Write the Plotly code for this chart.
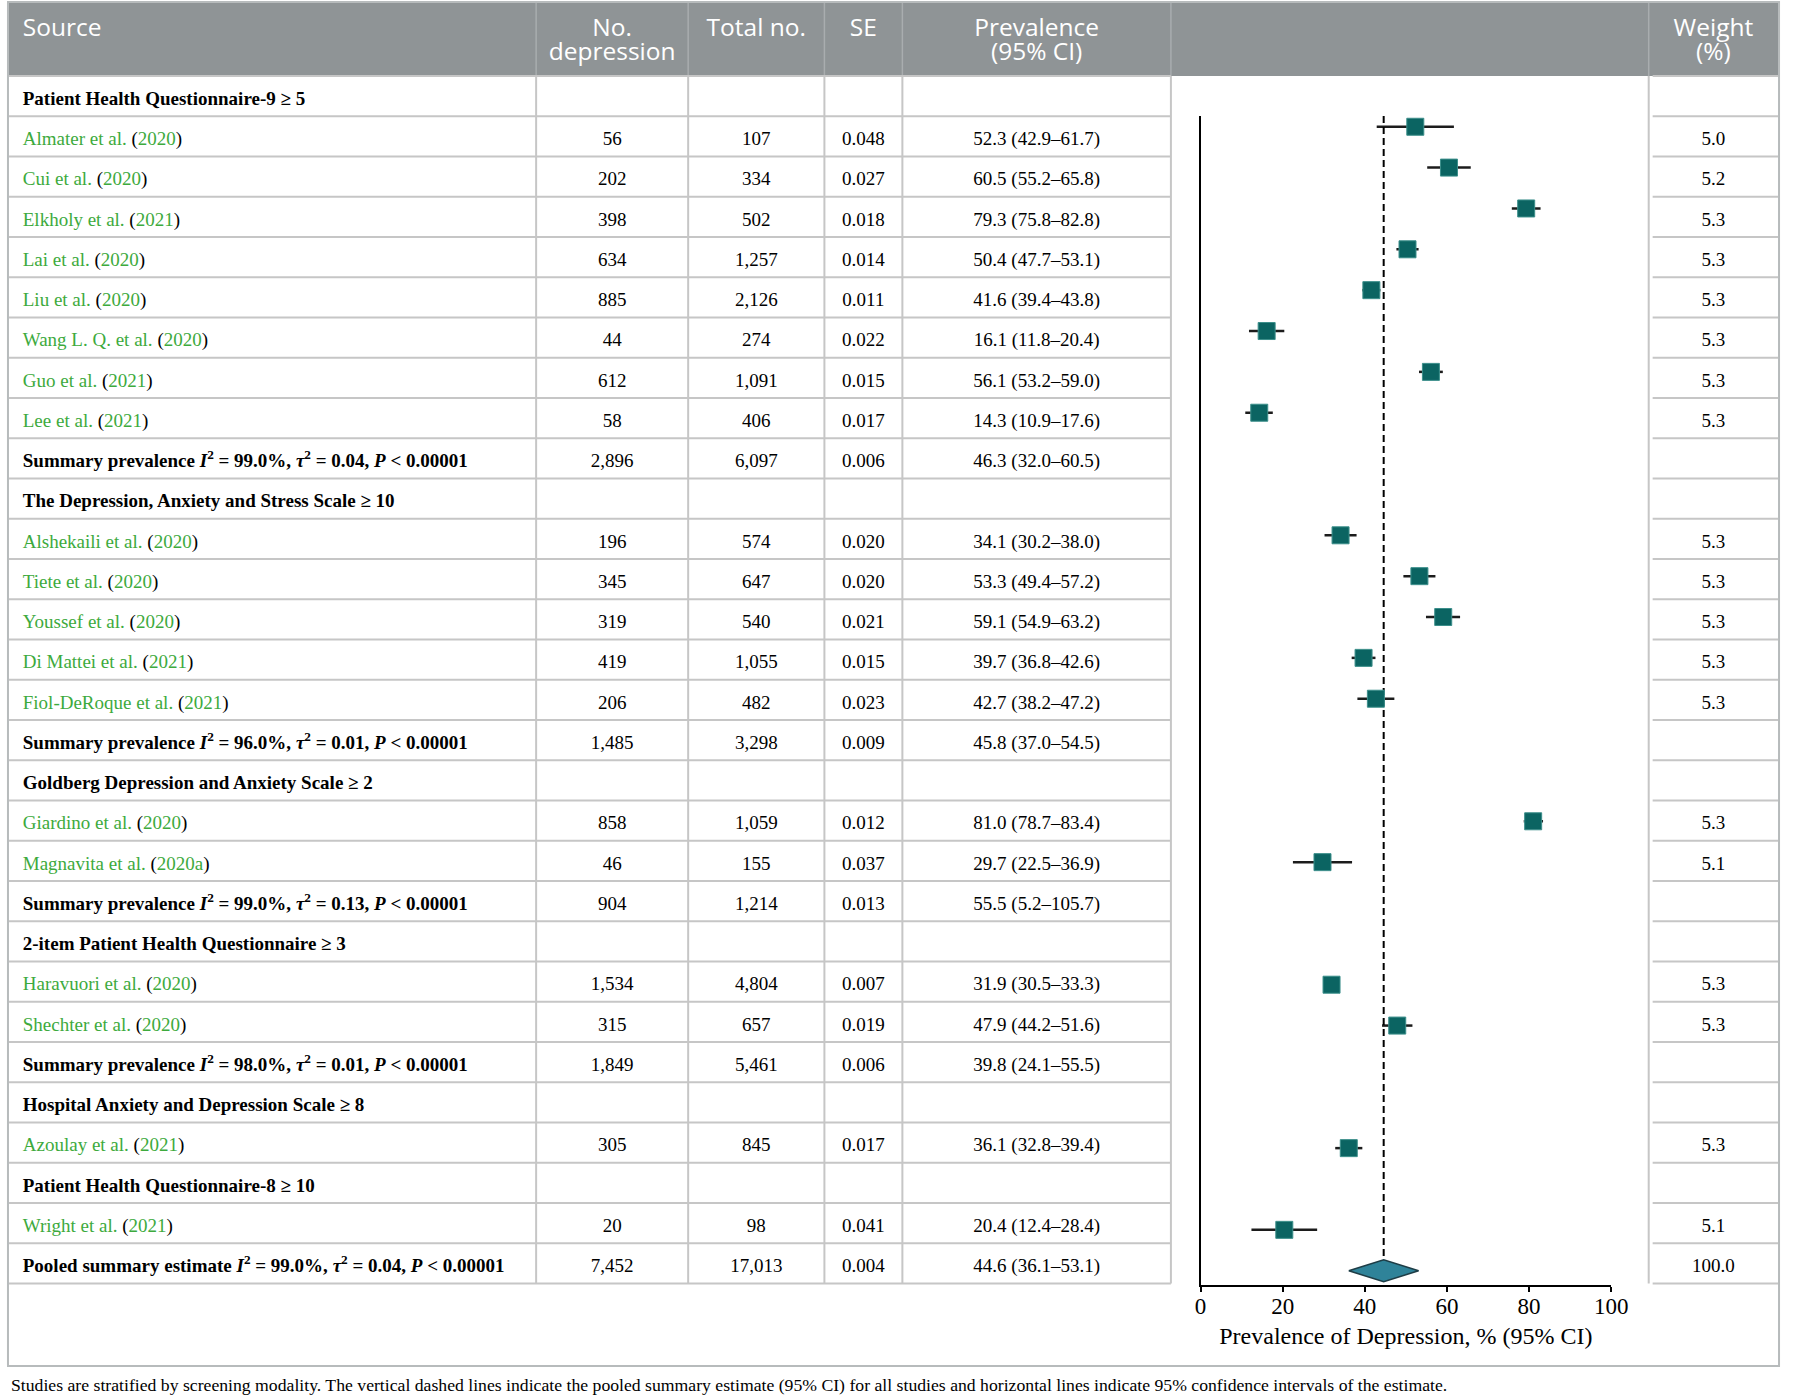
import plotly.graph_objects as go

W, H = 1798, 1398

# one entry per table row, top to bottom
ROW_KIND = (["group"] + ["study"] * 8 + ["summary"]
            + ["group"] + ["study"] * 5 + ["summary"]
            + ["group"] + ["study"] * 2 + ["summary"]
            + ["group"] + ["study"] * 2 + ["summary"]
            + ["group", "study"]
            + ["group", "study"]
            + ["pooled"])

LABEL = [
    "Patient Health Questionnaire-9 ≥ 5",
    "Almater et al.", "Cui et al.", "Elkholy et al.", "Lai et al.", "Liu et al.",
    "Wang L. Q. et al.", "Guo et al.", "Lee et al.",
    "Summary prevalence",
    "The Depression, Anxiety and Stress Scale ≥ 10",
    "Alshekaili et al.", "Tiete et al.", "Youssef et al.", "Di Mattei et al.",
    "Fiol-DeRoque et al.",
    "Summary prevalence",
    "Goldberg Depression and Anxiety Scale ≥ 2",
    "Giardino et al.", "Magnavita et al.",
    "Summary prevalence",
    "2-item Patient Health Questionnaire ≥ 3",
    "Haravuori et al.", "Shechter et al.",
    "Summary prevalence",
    "Hospital Anxiety and Depression Scale ≥ 8",
    "Azoulay et al.",
    "Patient Health Questionnaire-8 ≥ 10",
    "Wright et al.",
    "Pooled summary estimate",
]

YEAR = [None, "2020", "2020", "2021", "2020", "2020", "2020", "2021", "2021", None,
        None, "2020", "2020", "2020", "2021", "2021", None,
        None, "2020", "2020a", None,
        None, "2020", "2020", None,
        None, "2021",
        None, "2021",
        None]

I2 = [None, None, None, None, None, None, None, None, None, 99.0,
      None, None, None, None, None, None, 96.0,
      None, None, None, 99.0,
      None, None, None, 98.0,
      None, None,
      None, None,
      99.0]
TAU2 = [None, None, None, None, None, None, None, None, None, 0.04,
        None, None, None, None, None, None, 0.01,
        None, None, None, 0.13,
        None, None, None, 0.01,
        None, None,
        None, None,
        0.04]

N_DEP = [None, 56, 202, 398, 634, 885, 44, 612, 58, 2896,
         None, 196, 345, 319, 419, 206, 1485,
         None, 858, 46, 904,
         None, 1534, 315, 1849,
         None, 305,
         None, 20,
         7452]
N_TOT = [None, 107, 334, 502, 1257, 2126, 274, 1091, 406, 6097,
         None, 574, 647, 540, 1055, 482, 3298,
         None, 1059, 155, 1214,
         None, 4804, 657, 5461,
         None, 845,
         None, 98,
         17013]
SE = [None, 0.048, 0.027, 0.018, 0.014, 0.011, 0.022, 0.015, 0.017, 0.006,
      None, 0.020, 0.020, 0.021, 0.015, 0.023, 0.009,
      None, 0.012, 0.037, 0.013,
      None, 0.007, 0.019, 0.006,
      None, 0.017,
      None, 0.041,
      0.004]
PREV = [None, 52.3, 60.5, 79.3, 50.4, 41.6, 16.1, 56.1, 14.3, 46.3,
        None, 34.1, 53.3, 59.1, 39.7, 42.7, 45.8,
        None, 81.0, 29.7, 55.5,
        None, 31.9, 47.9, 39.8,
        None, 36.1,
        None, 20.4,
        44.6]
LO = [None, 42.9, 55.2, 75.8, 47.7, 39.4, 11.8, 53.2, 10.9, 32.0,
      None, 30.2, 49.4, 54.9, 36.8, 38.2, 37.0,
      None, 78.7, 22.5, 5.2,
      None, 30.5, 44.2, 24.1,
      None, 32.8,
      None, 12.4,
      36.1]
HI = [None, 61.7, 65.8, 82.8, 53.1, 43.8, 20.4, 59.0, 17.6, 60.5,
      None, 38.0, 57.2, 63.2, 42.6, 47.2, 54.5,
      None, 83.4, 36.9, 105.7,
      None, 33.3, 51.6, 55.5,
      None, 39.4,
      None, 28.4,
      53.1]
WEIGHT = [None, 5.0, 5.2, 5.3, 5.3, 5.3, 5.3, 5.3, 5.3, None,
          None, 5.3, 5.3, 5.3, 5.3, 5.3, None,
          None, 5.3, 5.1, None,
          None, 5.3, 5.3, None,
          None, 5.3,
          None, 5.1,
          100.0]

HEADERS = [["Source"], ["No.", "depression"], ["Total no."], ["SE"],
           ["Prevalence", "(95% CI)"], [], ["Weight", "(%)"]]
X_TITLE = "Prevalence of Depression, % (95% CI)"
X_TICKS = [0, 20, 40, 60, 80, 100]
FOOTNOTE = ("Studies are stratified by screening modality. The vertical dashed lines indicate the "
            "pooled summary estimate (95% CI) for all studies and horizontal lines indicate 95% "
            "confidence intervals of the estimate.")

# layout, in page pixels
COL_EDGES = [3, 537, 691, 829, 908, 1180, 1664, 1795]
TOP, BODY_TOP, ROW_H = 3, 76, 40.25
SRC_X = 17
TEXT_DY = 0.1          # text sits a touch below the row centre
HEAD_LINE_Y = [30, 54]
FRAME_BOTTOM = 1366

HEAD = "#8f9496"
HEAD_LINE = "#a9adaf"
GRID = "#c6c6c6"
FRAME = "#b7bbbc"
GREEN = "#3daa3d"
TEAL = "#0b6462"
TEAL_EDGE = "#3c8f8b"
DIAMOND = "#2f8399"
DIAMOND_EDGE = "#1e3d46"
SERIF = "Liberation Serif"
SANS = "Open Sans"


def row_y(px):
    """page pixel row -> table row units (row i is centred on i)"""
    return (px - BODY_TOP) / ROW_H - 0.5


def source_cell(i):
    kind = ROW_KIND[i]
    if kind == "group":
        return f"<b>{LABEL[i]}</b>"
    if kind == "study":
        return (f"<span style='color:{GREEN}'>{LABEL[i]}</span> "
                f"(<span style='color:{GREEN}'>{YEAR[i]}</span>)")
    return (f"<b>{LABEL[i]} <i>I</i><sup>2</sup> = {I2[i]:.1f}%, "
            f"<i>τ</i><sup>2</sup> = {TAU2[i]:.2f}, <i>P</i> &lt; 0.00001</b>")


def fmt(v, spec):
    return "" if v is None else format(v, spec)


n = len(ROW_KIND)
rows = list(range(n))
col_text = [
    [source_cell(i) for i in rows],
    [fmt(v, ",") for v in N_DEP],
    [fmt(v, ",") for v in N_TOT],
    [fmt(v, ".3f") for v in SE],
    ["" if PREV[i] is None else f"{PREV[i]:.1f} ({LO[i]:.1f}–{HI[i]:.1f})" for i in rows],
]
weight_text = [fmt(v, ".1f") for v in WEIGHT]
centres = [(a + b) / 2 for a, b in zip(COL_EDGES[:-1], COL_EDGES[1:])]

fig = go.Figure()

# ---- table (on a full-page helper axis pair: x in pixels, y in rows)
tab = dict(xaxis="x2", yaxis="y2", mode="text", hoverinfo="skip", showlegend=False,
           cliponaxis=False)
body_font = dict(family=SERIF, size=19, color="black")


def add_column(x, texts, position):
    keep = [i for i in rows if texts[i]]
    fig.add_trace(go.Scatter(x=[x] * len(keep), y=[i + TEXT_DY for i in keep],
                             text=[texts[i] for i in keep], textposition=position,
                             textfont=body_font, **tab))


add_column(SRC_X, col_text[0], "middle right")
for c in range(1, 5):
    add_column(centres[c], col_text[c], "middle center")
add_column(centres[6], weight_text, "middle center")

head_font = dict(family=SANS, size=24.5, color="white")
for c, lines in enumerate(HEADERS):
    for k, line in enumerate(lines):
        fig.add_trace(go.Scatter(x=[SRC_X if c == 0 else centres[c]], y=[row_y(HEAD_LINE_Y[k])],
                                 text=[line], textfont=head_font,
                                 textposition="middle right" if c == 0 else "middle center",
                                 **tab))

# header band, row rules and column rules
y_top, y_head, y_bot = row_y(TOP), -0.5, n - 0.5
fig.add_shape(type="rect", xref="x2", yref="y2", x0=COL_EDGES[0], x1=COL_EDGES[-1],
              y0=y_top, y1=y_head, fillcolor=HEAD, line_width=0, layer="below")
for xe in COL_EDGES[1:-1]:
    fig.add_shape(type="line", xref="x2", yref="y2", x0=xe, x1=xe, y0=y_top, y1=y_head,
                  line=dict(color=HEAD_LINE, width=1.5), layer="below")
    fig.add_shape(type="line", xref="x2", yref="y2", x0=xe, x1=xe, y0=y_head, y1=y_bot,
                  line=dict(color=GRID, width=2), layer="below")
for r in range(n + 1):
    yr = r - 0.5
    fig.add_shape(type="line", xref="x2", yref="y2", x0=COL_EDGES[0], x1=COL_EDGES[5],
                  y0=yr, y1=yr, line=dict(color=GRID, width=2), layer="below")
    fig.add_shape(type="line", xref="x2", yref="y2", x0=COL_EDGES[6] + 4, x1=COL_EDGES[7],
                  y0=yr, y1=yr, line=dict(color=GRID, width=2), layer="below")
fig.add_shape(type="rect", xref="x2", yref="y2", x0=2, x1=W - 2,
              y0=row_y(2), y1=row_y(FRAME_BOTTOM), line=dict(color=FRAME, width=2),
              layer="below")

# ---- forest plot
study = [i for i in rows if ROW_KIND[i] == "study"]
pooled = [i for i in rows if ROW_KIND[i] == "pooled"][0]

ci_x, ci_y = [], []
for i in study:
    ci_x += [LO[i], HI[i], None]
    ci_y += [i, i, None]
fig.add_trace(go.Scatter(x=ci_x, y=ci_y, mode="lines", line=dict(color="#1c1c1c", width=2.5),
                         hoverinfo="skip", showlegend=False))

half = 0.27
fig.add_trace(go.Scatter(x=[PREV[pooled], PREV[pooled]], y=[0.74, pooled - half], mode="lines",
                         line=dict(color="black", width=2, dash="7px,4px"),
                         hoverinfo="skip", showlegend=False))

fig.add_trace(go.Scatter(x=[PREV[i] for i in study], y=study, mode="markers",
                         marker=dict(symbol="square", size=17, color=TEAL,
                                     line=dict(color=TEAL_EDGE, width=1)),
                         showlegend=False))

fig.add_trace(go.Scatter(
    x=[LO[pooled], PREV[pooled], HI[pooled], PREV[pooled], LO[pooled]],
    y=[pooled, pooled - half, pooled, pooled + half, pooled],
    mode="lines", fill="toself", fillcolor=DIAMOND,
    line=dict(color=DIAMOND_EDGE, width=1.5), showlegend=False))

fig.update_layout(
    width=W, height=H, margin=dict(l=0, r=0, t=0, b=0),
    paper_bgcolor="white", plot_bgcolor="rgba(0,0,0,0)", showlegend=False,
    xaxis=dict(domain=[1210 / W, 1626 / W], range=[0, 100], tickvals=X_TICKS,
               ticks="outside", ticklen=5, tickwidth=2, tickcolor="black",
               ticklabelstandoff=-6,
               showline=True, linecolor="black", linewidth=2, showgrid=False, zeroline=False,
               tickfont=dict(family=SERIF, size=23, color="black"),
               title=dict(text=X_TITLE, font=dict(family=SERIF, size=24, color="black"),
                          standoff=10)),
    yaxis=dict(domain=[1 - 1285 / H, 1 - 116 / H], range=[29.35, 0.737],
               showline=True, linecolor="black", linewidth=2, showgrid=False, zeroline=False,
               showticklabels=False, ticks=""),
    xaxis2=dict(domain=[0, 1], range=[0, W], visible=False, anchor="y2"),
    yaxis2=dict(domain=[0, 1], range=[row_y(H), row_y(0)], visible=False, anchor="x2"),
)

fig.add_annotation(text=FOOTNOTE, xref="paper", yref="paper", x=3 / W, y=1 - 1385 / H,
                   xanchor="left", yanchor="middle", showarrow=False,
                   font=dict(family=SERIF, size=17.7, color="black"))

fig.write_html("out.html", config={"displayModeBar": False},
               post_script="document.documentElement.style.overflow = 'hidden';"
                           "document.body.style.margin = '0';"
                           "document.body.style.overflow = 'hidden';")
